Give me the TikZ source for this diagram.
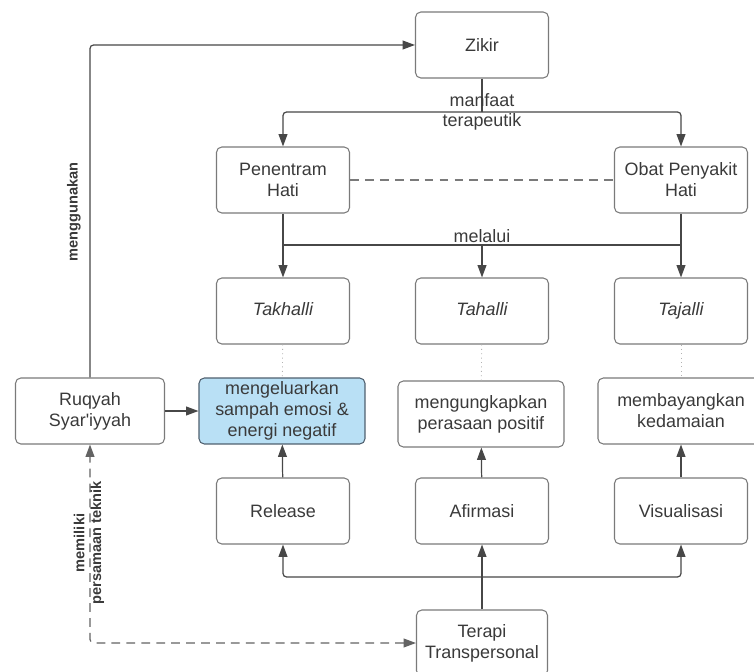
\documentclass[tikz,border=0pt]{standalone}
\usepackage{fontspec}
\setmainfont{Liberation Sans}
\usepackage{tikz}
\usetikzlibrary{arrows.meta, positioning, calc}
\definecolor{lucid_text}{HTML}{3A3A3A}
\definecolor{lucid_border}{HTML}{7A7A7A}
\definecolor{lucid_line}{HTML}{474747}
\definecolor{lucid_blue}{HTML}{B9E0F5}
\definecolor{lucid_navy}{HTML}{4F5F6E}
\colorlet{lucidtext}{lucid_text}
\tikzset{
  concept/.style={draw=lucid_border,line width=0.6pt,rounded corners=3pt,fill=white,text=lucidtext,minimum width=2.66cm,minimum height=1.32cm,inner sep=1pt,align=center,font=\fontsize{10.2}{12}\selectfont},
  concept_w/.style={concept,minimum width=3.32cm},
  concept_hl/.style={concept_w,fill=lucid_blue,draw=lucid_navy},
  relation/.style={line width=0.7pt,draw=lucid_line,rounded corners=2pt,-{Triangle[width=5pt,length=7pt]}},
  relation_plain/.style={line width=0.7pt,draw=lucid_line,rounded corners=2pt},
  relation_dash/.style={relation,draw=lucid_line!85,dash pattern=on 5pt off 3.5pt,{Triangle[width=5pt,length=7pt]}-{Triangle[width=5pt,length=7pt]}},
  twin/.style={line width=0.6pt,draw=lucid_border,dash pattern=on 5pt off 3.5pt},
  trace/.style={line width=0.5pt,draw=black!30,dotted},
  linklabel/.style={text=lucidtext,inner sep=0pt,font=\fontsize{10.2}{12}\selectfont},
  sidelabel/.style={text=lucidtext,inner sep=0pt,rotate=90,align=center,font=\fontsize{8.3}{9.6}\selectfont\bfseries},
}

\begin{document}
\begin{tikzpicture}[x=0.02cm,y=-0.02cm]
	    \useasboundingbox (0,0) rectangle (754,672);
	    % sources
	    \node[concept] (zikir) at (482,45) {Zikir};
	    \node[concept] (penentram) at (283,180) {Penentram\\Hati};
	    \node[concept] (obat) at (681,180) {Obat Penyakit\\Hati};
	    % stages
	    \node[concept] (takhalli) at (283,311) {\itshape Takhalli\strut};
	    \node[concept] (tahalli) at (482,311) {\itshape Tahalli\strut};
	    \node[concept] (tajalli) at (681,311) {\itshape Tajalli\strut};
	    % outcomes
	    \node[concept,minimum width=2.98cm] (ruqyah) at (90,411) {Ruqyah\\Syar\textquotesingle iyyah};
	    \node[concept_hl] (keluar) at (282,411) {mengeluarkan\\sampah emosi \&\\energi negatif};
	    \node[concept_w] (ungkap) at (481,414) {mengungkapkan\\perasaan positif};
	    \node[concept_w] (bayang) at (681,411) {membayangkan\\kedamaian};
	    % techniques
	    \node[concept] (release) at (283,511) {Release};
	    \node[concept] (afirmasi) at (482,511) {Afirmasi};
	    \node[concept] (visual) at (681,511) {Visualisasi};
	    \node[concept,minimum width=2.62cm] (terapi) at (482,643) {Terapi\\Transpersonal};
	    \coordinate (manfaat) at (482,112);
	    \coordinate (melalui) at (482,245);
	    \coordinate (teknik) at (482,577);
	    \draw[relation_plain] (zikir) -- (manfaat);
	    \draw[relation] (manfaat) -| (penentram);
	    \draw[relation] (manfaat) -| (obat);
	    \node[linklabel] (lblmanfaat) at (482,100) {manfaat};
	    \node[linklabel] (lblterapeutik) at (482,122) {terapeutik};
	    \draw[twin] (penentram) -- (obat);
	    \draw[relation] (penentram) -- (takhalli);
	    \draw[relation] (obat) -- (tajalli);
	    \draw[relation_plain] (penentram.south |- melalui) -- (obat.south |- melalui);
	    \draw[relation] (melalui) -- (tahalli);
	    \node[linklabel] (lblmelalui) at (482,236) {melalui};
	    \draw[trace] (takhalli) -- (keluar);
	    \draw[trace] (tahalli) -- (ungkap);
	    \draw[trace] (tajalli) -- (bayang);
	    \draw[relation] (release) -- (keluar);
	    \draw[relation] (afirmasi) -- (ungkap);
	    \draw[relation] (visual) -- (bayang);
	    \draw[relation_plain] (terapi) -- (teknik);
	    \draw[relation] (teknik) -| (release);
	    \draw[relation] (teknik) -| (visual);
	    \draw[relation] (teknik) -- (afirmasi);
	    \draw[relation] (ruqyah) |- (zikir);
	    \node[sidelabel] (lblguna) at (74,212) {menggunakan};
	    \draw[relation] (ruqyah) -- (keluar);
	    \draw[relation_dash] (terapi.west) -| (ruqyah.south);
	    \node[sidelabel] (lblteknik) at (89,543) {memiliki\\persamaan teknik};
	\end{tikzpicture}
\end{document}
